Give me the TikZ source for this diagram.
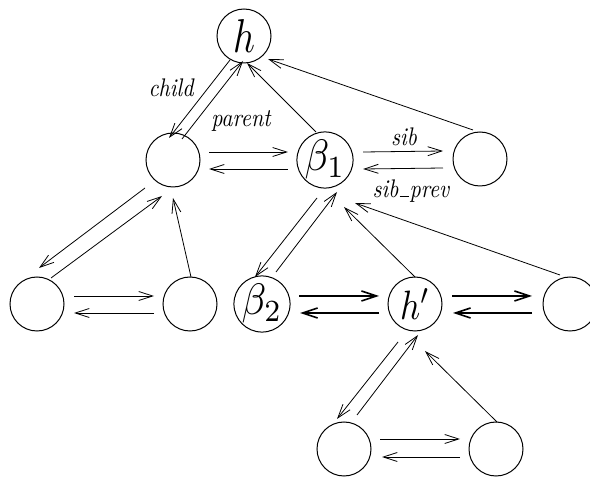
\documentclass[tikz,border=0pt]{standalone}
\usepackage{graphicx}
\usetikzlibrary{arrows.meta,calc}
\newcommand{\lbltext}[1]{\scalebox{2.2}[2.55]{\itshape #1}}
\newcommand{\uscore}{\kern0.05em\vbox{\hrule width0.42em height0.06em depth0pt}\kern0.03em}
\begin{document}
\begin{tikzpicture}[x=1pt,y=-1pt,
  vtx/.style={circle,draw,line width=1pt,minimum size=54pt,inner sep=0pt,outer sep=0pt},
  lnk/.style={line width=0.8pt,-{Straight Barb[length=14pt,width=9pt]}},
  thk/.style={line width=1.6pt,-{Straight Barb[length=15pt,width=10pt]}},
  lbl/.style={inner sep=0pt}]
\useasboundingbox (0,0) rectangle (590,478);
% nodes
\node[vtx] (h) at (244,36) {\scalebox{3.8}[4.75]{$h$}};
\node[vtx] (A) at (173,160) {};
\node[vtx] (b1) at (325,160) {\scalebox{4}[4.4]{$\beta_1$}};
\node[vtx] (R) at (480,159) {};
\node[vtx] (LL) at (37,304) {};
\node[vtx] (LR) at (190,304) {};
\node[vtx] (b2) at (262,304) {\scalebox{4}[4.4]{$\beta_2$}};
\node[vtx] (hp) at (415,304) {\scalebox{3.5}[4.1]{$h'$}};
\node[vtx] (RR) at (570,304) {};
\node[vtx] (BL) at (344,449) {};
\node[vtx] (BR) at (496,449) {};
% labels
\node[lbl] (lchild) at (171,88) {\lbltext{child}};
\node[lbl] (lparent) at (241,121) {\lbltext{parent}};
\node[lbl] (lsib) at (404,137) {\lbltext{sib}};
\node[lbl] (lsibprev) at (411,191) {\lbltext{sib\uscore prev}};
% horizontal pairs
\draw[lnk] ([xshift=9pt,yshift=8pt]A.east) -- ([xshift=-9pt,yshift=8pt]b1.west);
\draw[lnk] ([xshift=-9pt,yshift=-9pt]b1.west) -- ([xshift=9pt,yshift=-9pt]A.east);
\draw[lnk] ([xshift=10pt,yshift=8pt]b1.east) -- ([xshift=-10pt,yshift=8pt]R.west);
\draw[lnk] ([xshift=-10pt,yshift=-9pt]R.west) -- ([xshift=10pt,yshift=-9pt]b1.east);
\draw[lnk] ([xshift=10pt,yshift=8pt]LL.east) -- ([xshift=-9pt,yshift=8pt]LR.west);
\draw[lnk] ([xshift=-9pt,yshift=-9pt]LR.west) -- ([xshift=10pt,yshift=-9pt]LL.east);
\draw[thk] ([xshift=9pt,yshift=8pt]b2.east) -- ([xshift=-9pt,yshift=8pt]hp.west);
\draw[thk] ([xshift=-9pt,yshift=-9pt]hp.west) -- ([xshift=10pt,yshift=-9pt]b2.east);
\draw[thk] ([xshift=10pt,yshift=8pt]hp.east) -- ([xshift=-11pt,yshift=8pt]RR.west);
\draw[thk] ([xshift=-11pt,yshift=-9pt]RR.west) -- ([xshift=11pt,yshift=-9pt]hp.east);
\draw[lnk] ([xshift=9pt,yshift=10pt]BL.east) -- ([xshift=-9pt,yshift=10pt]BR.west);
\draw[lnk] ([xshift=-9pt,yshift=-8pt]BR.west) -- ([xshift=11pt,yshift=-8pt]BL.east);
% diagonal links
\draw[lnk] ($(h)+(-14,24)$) -- ($(A)+(-4,-22)$);
\draw[lnk] ($(A)+(9,-21)$) -- ($(h)+(-1,25)$);
\draw[lnk] ($(b1)+(-9,-28)$) -- ($(h)+(3,27)$);
\draw[lnk] ($(R)+(-7,-29)$) -- ($(h)+(24,23)$);
\draw[lnk] ($(A)+(-28,28)$) -- ($(LL)+(2,-36)$);
\draw[lnk] ($(LL)+(14,-26)$) -- ($(A)+(-11,36)$);
\draw[lnk] ($(LR)+(1,-27)$) -- ($(A)+(0,38)$);
\draw[lnk] ($(b1)+(-8,38)$) -- ($(b2)+(-7,-27)$);
\draw[lnk] ($(b2)+(14,-32)$) -- ($(b1)+(12,32)$);
\draw[lnk] ($(hp)+(0,-27)$) -- ($(b1)+(19,47)$);
\draw[lnk] ($(RR)+(-10,-29)$) -- ($(b1)+(30,43)$);
\draw[lnk] ($(hp)+(-17,38)$) -- ($(BL)+(-7,-30)$);
\draw[lnk] ($(BL)+(13,-34)$) -- ($(hp)+(3,31)$);
\draw[lnk] ($(BR)+(1,-27)$) -- ($(hp)+(10,47)$);
\end{tikzpicture}
\end{document}
